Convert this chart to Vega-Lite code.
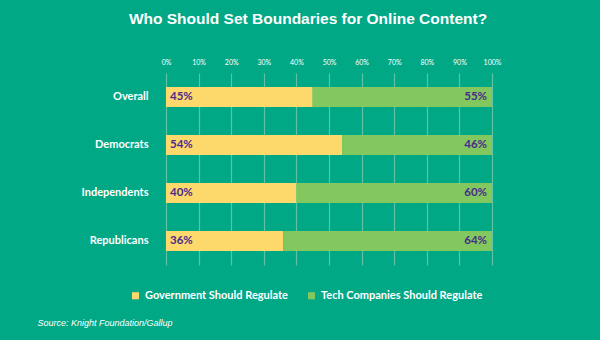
{
  "$schema": "https://vega.github.io/schema/vega-lite/v6.json",
  "width": 326,
  "height": 192,
  "autosize": "none",
  "padding": {"left": 166, "top": 73, "right": 108, "bottom": 75},
  "background": "#00A886",
  "title": {
    "text": "Who Should Set Boundaries for Online Content?",
    "font": "Liberation Sans",
    "fontSize": 15.5,
    "fontWeight": "bold",
    "color": "#FFFFFF",
    "anchor": "middle",
    "dx": -21,
    "offset": 31
  },
  "config": {
    "view": {"stroke": null},
    "font": "Lato",
    "axisX": {
      "orient": "top",
      "title": null,
      "values": [0, 10, 20, 30, 40, 50, 60, 70, 80, 90, 100],
      "labelExpr": "datum.value + '%'",
      "labelFontSize": 7,
      "labelColor": "#FFFFFF",
      "labelPadding": 8,
      "labelOverlap": false,
      "labelFlush": false,
      "domain": false,
      "ticks": false,
      "grid": true,
      "gridColor": "#5CC4A2",
      "gridWidth": 1.2
    }
  },
  "data": {
    "values": [
      {"group": "Overall", "category": "Government Should Regulate", "value": 45, "order": 1},
      {"group": "Overall", "category": "Tech Companies Should Regulate", "value": 55, "order": 2},
      {"group": "Democrats", "category": "Government Should Regulate", "value": 54, "order": 1},
      {"group": "Democrats", "category": "Tech Companies Should Regulate", "value": 46, "order": 2},
      {"group": "Independents", "category": "Government Should Regulate", "value": 40, "order": 1},
      {"group": "Independents", "category": "Tech Companies Should Regulate", "value": 60, "order": 2},
      {"group": "Republicans", "category": "Government Should Regulate", "value": 36, "order": 1},
      {"group": "Republicans", "category": "Tech Companies Should Regulate", "value": 64, "order": 2}
    ]
  },
  "transform": [
    {"stack": "value", "groupby": ["group"], "sort": [{"field": "order"}], "as": ["x0", "x1"]}
  ],
  "encoding": {
    "y": {
      "field": "group",
      "type": "nominal",
      "sort": ["Overall", "Democrats", "Independents", "Republicans"],
      "scale": {"paddingInner": 0.58, "paddingOuter": 0.29},
      "axis": {
        "title": "Source: Knight Foundation/Gallup",
        "titleAngle": 0,
        "titleX": -129,
        "titleY": 252,
        "titleAlign": "left",
        "titleBaseline": "alphabetic",
        "titleFont": "Liberation Sans",
        "titleFontSize": 9,
        "titleFontStyle": "italic",
        "titleFontWeight": "normal",
        "titleColor": "#FFFFFF",
        "domain": false,
        "ticks": false,
        "labelPadding": 18,
        "labelFontSize": 11,
        "labelFontWeight": "bold",
        "labelColor": "#FFFFFF"
      }
    }
  },
  "layer": [
    {
      "mark": {"type": "bar", "stroke": null},
      "encoding": {
        "x": {
          "field": "x0",
          "type": "quantitative",
          "scale": {"domain": [0, 100], "nice": false}
        },
        "x2": {"field": "x1"},
        "color": {
          "field": "category",
          "type": "nominal",
          "scale": {
            "domain": ["Government Should Regulate", "Tech Companies Should Regulate"],
            "range": ["#FDD96C", "#82C85E"]
          },
          "legend": {
            "title": null,
            "orient": "none",
            "direction": "horizontal",
            "legendX": -36,
            "legendY": 217,
            "symbolType": "square",
            "symbolSize": 50,
            "symbolStrokeWidth": 0,
            "labelColor": "#FFFFFF",
            "labelFontSize": 11,
            "labelFontWeight": "bold",
            "labelLimit": 300,
            "columnPadding": 18
          }
        }
      }
    },
    {
      "transform": [{"filter": "datum.order == 1"}],
      "mark": {"type": "text", "align": "left", "dx": 4, "fontSize": 11.5, "fontWeight": "bold", "color": "#4A2A8C", "text": {"expr": "datum.value + '%'"}},
      "encoding": {
        "x": {"field": "x0", "type": "quantitative"}
      }
    },
    {
      "transform": [{"filter": "datum.order == 2"}],
      "mark": {"type": "text", "align": "right", "dx": -5, "fontSize": 11.5, "fontWeight": "bold", "color": "#4A2A8C", "text": {"expr": "datum.value + '%'"}},
      "encoding": {
        "x": {"field": "x1", "type": "quantitative"}
      }
    }
  ]
}
